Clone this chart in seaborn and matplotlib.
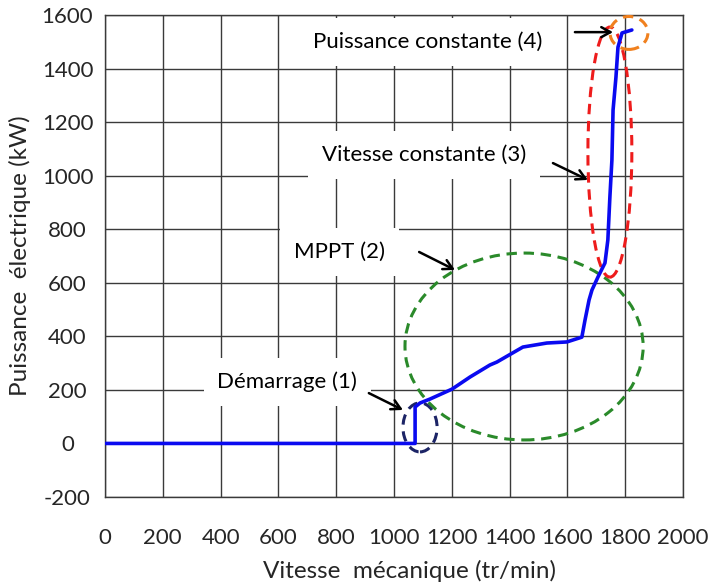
import matplotlib
matplotlib.use("Agg")
import matplotlib.pyplot as plt
from matplotlib.patches import Ellipse
import seaborn as sns
import pandas as pd

# ---- data ----
vitesse = [0, 1073, 1073, 1090, 1125, 1201, 1263, 1332, 1356, 1446, 1529, 1598, 1650,
           1661, 1675, 1685, 1706, 1730, 1740, 1747, 1754, 1758, 1768, 1775, 1789, 1823]
puissance = [0, 0, 136, 151, 166, 203, 248, 293, 304, 360, 375, 379, 397,
             461, 536, 573, 622, 674, 760, 920, 1058, 1245, 1368, 1480, 1533, 1544]

x_ticks = [0, 200, 400, 600, 800, 1000, 1200, 1400, 1600, 1800, 2000]
y_ticks = [-200, 0, 200, 400, 600, 800, 1000, 1200, 1400, 1600]

zone_labels = ["Démarrage (1)", "MPPT (2)", "Vitesse constante (3)", "Puissance constante (4)"]
label_x = [631, 811, 1105, 1118]
label_y = [229, 715, 1077, 1499]
arrow_tail_x = [913, 1087, 1550, 1626]
arrow_tail_y = [188, 715, 1047, 1536]
arrow_head_x = [1031, 1211, 1671, 1758]
arrow_head_y = [125, 648, 984, 1536]

ell_cx = [1090, 1450, 1747, 1813]
ell_cy = [60, 362, 1088, 1533]
ell_w = [118, 824, 152, 131]
ell_h = [183, 698, 934, 123]
ell_colors = ["#1C2466", "#2A8A2A", "#EE1C1C", "#F0801E"]

df = pd.DataFrame({"Vitesse": vitesse, "Puissance": puissance})

sns.set_theme(style="whitegrid")
plt.rcParams["font.family"] = ["Lato", "DejaVu Sans"]

fig = plt.figure(figsize=(7.16, 5.88), dpi=100)
ax = fig.add_axes([105 / 716, 91 / 588, 578 / 716, 482 / 588])
ax.set_facecolor("white")

sns.lineplot(data=df, x="Vitesse", y="Puissance", ax=ax, sort=False, estimator=None,
             color="#0A0AF0", linewidth=2.6, zorder=5)

for cx, cy, w, h, c in zip(ell_cx, ell_cy, ell_w, ell_h, ell_colors):
    ax.add_patch(Ellipse((cx, cy), w, h, fill=False, edgecolor=c, linewidth=2.2,
                         linestyle=(0, (3.4, 2.2)), zorder=4, clip_on=False))

for txt, lx, ly in zip(zone_labels, label_x, label_y):
    ax.text(lx, ly, txt, ha="center", va="center", fontsize=16, color="black",
            bbox=dict(facecolor="white", edgecolor="none", pad=10), zorder=6)

for tx, ty, hx, hy in zip(arrow_tail_x, arrow_tail_y, arrow_head_x, arrow_head_y):
    ax.annotate("", xy=(hx, hy), xytext=(tx, ty),
                arrowprops=dict(arrowstyle="->,head_length=0.55,head_width=0.3",
                                lw=1.8, color="black", shrinkA=0, shrinkB=0),
                zorder=7)

ax.set_xlim(0, 2000)
ax.set_ylim(-200, 1600)
ax.set_xticks(x_ticks)
ax.set_yticks(y_ticks)
ax.set_xticklabels([str(t) for t in x_ticks], fontsize=16)
ax.set_yticklabels([str(t) for t in y_ticks], fontsize=16, ha="center")
ax.tick_params(axis="x", length=0, pad=22)
ax.tick_params(axis="y", length=0, pad=27)
ax.grid(True, color="#3a3a3a", linewidth=1.0)
for s in ax.spines.values():
    s.set_color("#3a3a3a")
    s.set_linewidth(1.0)

ax.set_xlabel("Vitesse  mécanique (tr/min)", fontsize=17.5)
ax.set_ylabel("Puissance  électrique (kW)", fontsize=17.5)
ax.xaxis.set_label_coords(0.526, -0.13)
ax.yaxis.set_label_coords(-0.128, 0.5)

fig.savefig("out.png", dpi=100)
